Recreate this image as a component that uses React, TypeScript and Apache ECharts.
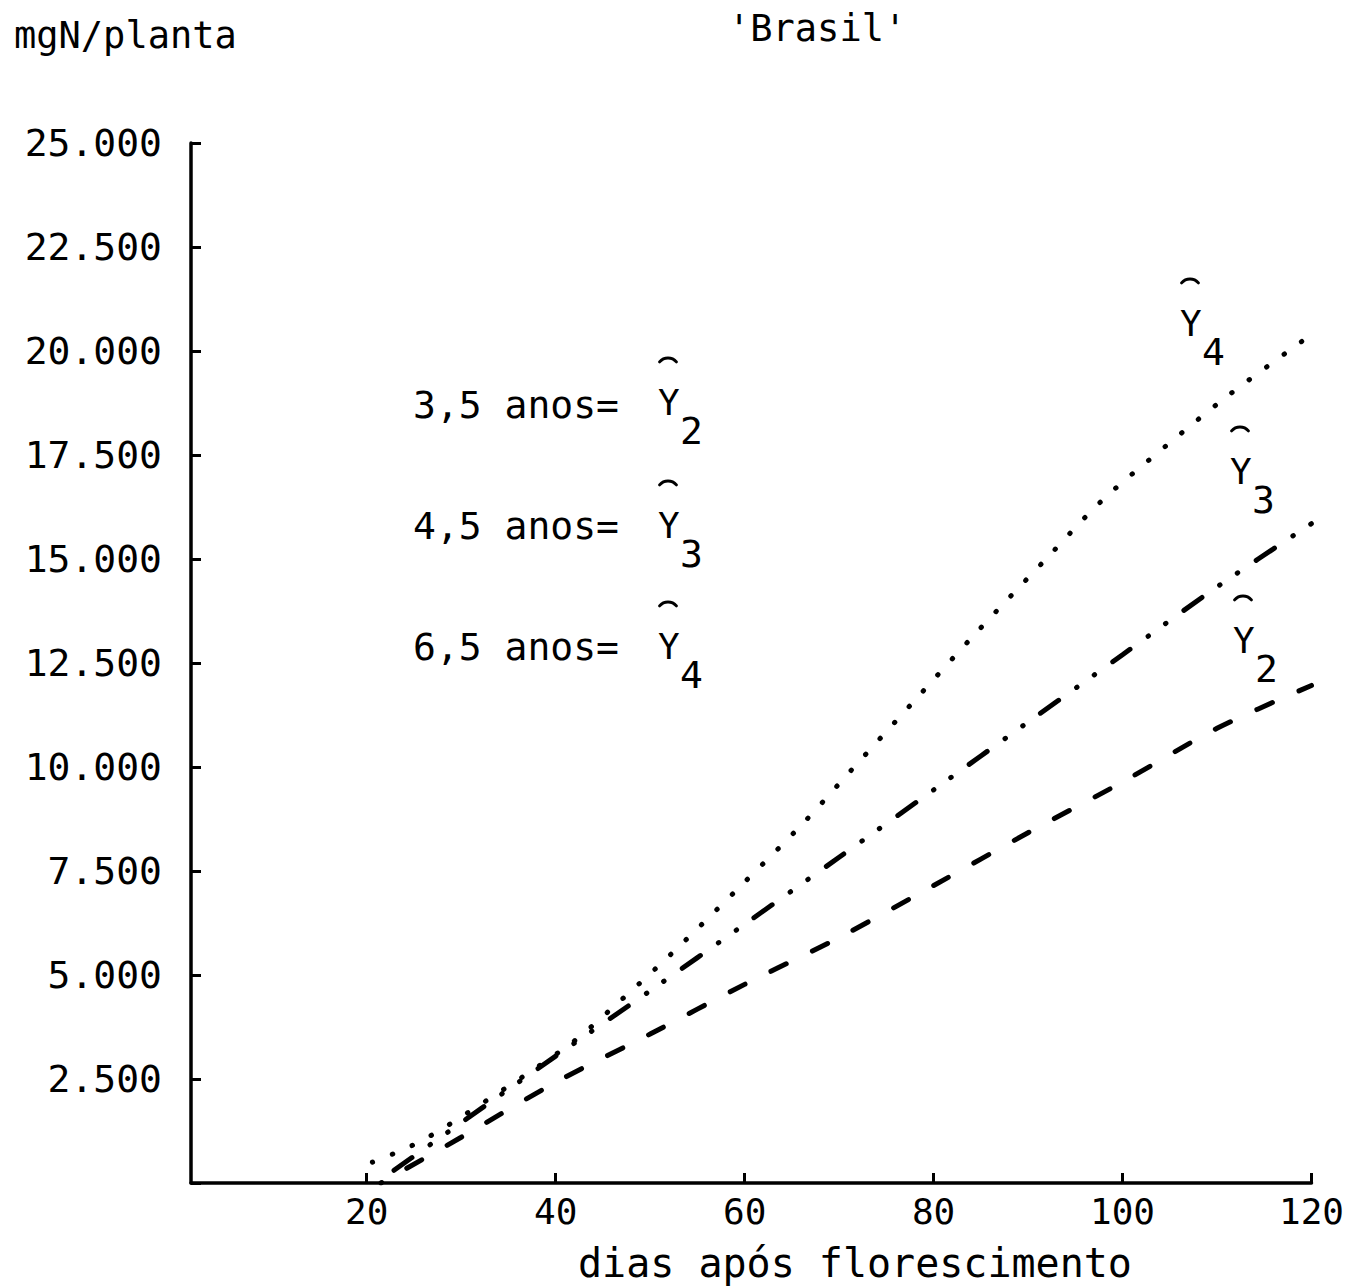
import React, { useEffect, useRef } from "react";
import * as echarts from "echarts";

// Nitrogen accumulation per plant (mgN/planta) vs. days after flowering, cultivar 'Brasil'
const xTicks = [20, 40, 60, 80, 100, 120];

// Ŷ2 — 3,5 anos (dashed)
const daysY2 = [21.5, 30, 40, 50, 60, 70, 80, 90, 100, 110, 120];
const valuesY2 = [0, 1100, 2420, 3580, 4775, 5900, 7150, 8420, 9640, 10930, 11960];

// Ŷ3 — 4,5 anos (dash-dot-dot)
const daysY3 = [21, 30, 40, 50, 60, 70, 80, 90, 100, 110, 120];
const valuesY3 = [0, 1450, 3050, 4620, 6220, 7830, 9450, 11080, 12700, 14330, 15850];

// Ŷ4 — 6,5 anos (dotted)
const daysY4 = [20.6, 24.8, 28.7, 41.3, 46.2, 52.2, 59.4, 66.2, 71.2, 77.8, 84.4, 91.9, 97.8, 104.5, 111.3, 120];
const valuesY4 = [500, 900, 1400, 3300, 4250, 5500, 7100, 8650, 9900, 11550, 13200, 15000, 16400, 17700, 18950, 20400];

const FONT = '"DejaVu Sans Mono", monospace';

const pairs = (xs: number[], ys: number[]) => xs.map((x, i) => [x, ys[i]]);

const thousands = (v: number) =>
  v === 0 ? "" : String(v).replace(/\B(?=(\d{3})+(?!\d))/g, ".");

const txt = (text: string, x: number, y: number, size: number) => ({
  type: "text",
  x,
  y,
  silent: true,
  style: {
    text,
    font: `${size}px ${FONT}`,
    fill: "#000",
    align: "left",
    textAlign: "left",
    verticalAlign: "middle",
    textVerticalAlign: "middle",
  },
});

const hat = (cx: number, cy: number) => ({
  type: "arc",
  silent: true,
  shape: {
    cx,
    cy,
    r: 11,
    startAngle: Math.PI * 1.5 - 0.87,
    endAngle: Math.PI * 1.5 + 0.87,
    clockwise: true,
  },
  style: { stroke: "#000", lineWidth: 3, fill: "none", lineCap: "round" },
});

// Ŷ with subscript
const yHat = (x: number, y: number, sub: string) => [
  txt("Y", x, y, 36),
  hat(x + 10, y - 33),
  txt(sub, x + 22, y + 29, 38),
];

export default function App() {
  const ref = useRef<HTMLDivElement>(null);

  useEffect(() => {
    if (!ref.current) return;
    const chart = echarts.init(ref.current, null, { renderer: "svg" });

    const axisLine = { show: true, onZero: false, lineStyle: { color: "#000", width: 3.5 } };
    const axisTick = { show: true, inside: true, length: 10, lineStyle: { color: "#000", width: 3 } };

    chart.setOption({
      animation: false,
      backgroundColor: "#fff",
      grid: { left: 191, right: 32, top: 143, bottom: 105 },
      xAxis: {
        type: "value",
        min: 1.4,
        max: 120,
        axisLine,
        axisTick: { ...axisTick, customValues: xTicks },
        axisLabel: {
          customValues: xTicks,
          color: "#000",
          fontFamily: FONT,
          fontSize: 36,
          margin: 10,
        },
        splitLine: { show: false },
      },
      yAxis: {
        type: "value",
        min: 0,
        max: 25000,
        interval: 2500,
        axisLine,
        axisTick,
        axisLabel: {
          color: "#000",
          fontFamily: FONT,
          fontSize: 38,
          margin: 29,
          formatter: (v: number) => thousands(v),
        },
        splitLine: { show: false },
      },
      series: [
        {
          name: "Ŷ2",
          type: "line",
          data: pairs(daysY2, valuesY2),
          showSymbol: false,
          symbol: "none",
          smooth: 0.3,
          lineStyle: { color: "#000", width: 5, type: [17, 29], dashOffset: 16, cap: "round" },
        },
        {
          name: "Ŷ3",
          type: "line",
          data: pairs(daysY3, valuesY3),
          showSymbol: false,
          symbol: "none",
          smooth: 0.3,
          lineStyle: {
            color: "#000",
            width: 5,
            type: [22, 22, 0.5, 21, 0.5, 22],
            dashOffset: 66,
            cap: "round",
          },
        },
        {
          name: "Ŷ4",
          type: "line",
          data: pairs(daysY4, valuesY4),
          showSymbol: false,
          symbol: "none",
          smooth: 0.3,
          lineStyle: { color: "#000", width: 5, type: [0.5, 21], cap: "round" },
        },
      ],
      graphic: [
        txt("mgN/planta", 14, 35, 37),
        txt("'Brasil'", 728, 28, 37),
        txt("dias após florescimento", 578, 1263, 40),
        // key
        txt("3,5 anos=", 413, 405, 38),
        ...yHat(658, 402, "2"),
        txt("4,5 anos=", 413, 526, 38),
        ...yHat(658, 525, "3"),
        txt("6,5 anos=", 413, 647, 38),
        ...yHat(658, 646, "4"),
        // curve labels
        ...yHat(1180, 323, "4"),
        ...yHat(1230, 471, "3"),
        ...yHat(1233, 640, "2"),
      ],
    });

    return () => chart.dispose();
  }, []);

  return (
    <div
      ref={ref}
      style={{ position: "absolute", left: 0, top: 0, width: 1347, height: 1288, background: "#fff" }}
    />
  );
}
